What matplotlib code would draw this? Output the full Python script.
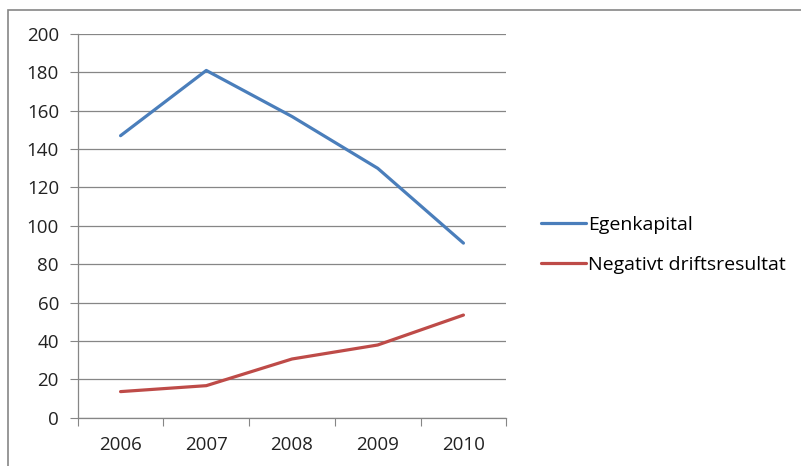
import matplotlib.pyplot as plt
from matplotlib.patches import Rectangle

years = ["2006", "2007", "2008", "2009", "2010"]
egenkapital = [147, 181, 157, 130, 91]
negativt = [13.6, 16.7, 30.6, 37.9, 53.5]
labels = ["Egenkapital", "Negativt driftsresultat"]

plt.rcParams['font.family'] = ['Open Sans', 'DejaVu Sans']

W, H = 801, 466
fig = plt.figure(figsize=(W / 100, H / 100), dpi=100)
ax = fig.add_axes([77.7 / W, 1 - 417.7 / H, (506.3 - 77.7) / W, (417.7 - 34) / H])

# outer chart border
fig.patches.append(Rectangle((8 / W, -0.1), 1.2, 1 - 10 / H + 0.1, transform=fig.transFigure,
                             fill=False, edgecolor='#868686', linewidth=1.2))

x = range(len(years))
l1, = ax.plot(x, egenkapital, color='#4A7EBB', lw=2.3, solid_capstyle='round')
l2, = ax.plot(x, negativt, color='#BE4B48', lw=2.3, solid_capstyle='round')

ax.set_xlim(-0.5, len(years) - 0.5)
ax.set_ylim(0, 200)
ax.set_yticks(range(0, 201, 20))
ax.set_xticks([i - 0.5 for i in range(len(years) + 1)])
ax.set_xticklabels([])
ax.set_xticks(list(x), minor=True)
ax.set_xticklabels(years, minor=True)
ax.tick_params(axis='x', which='minor', length=0, pad=13, labelsize=13.5, colors='#222222')
ax.tick_params(axis='x', which='major', length=6, color='#868686')
ax.tick_params(axis='y', length=5.5, color='#868686', labelsize=13.5, labelcolor='#222222', pad=8)

ax.grid(axis='y', color='#868686', lw=0.9)
ax.set_axisbelow(True)
for s in ['top', 'right']:
    ax.spines[s].set_visible(False)
for s in ['left', 'bottom']:
    ax.spines[s].set_color('#868686')
    ax.spines[s].set_linewidth(0.9)

fig.legend([l1, l2], labels, loc='upper left', bbox_to_anchor=(533 / W, 1 - 208 / H),
           frameon=False, fontsize=14, handlelength=2.3, handletextpad=0.15,
           labelspacing=1.12, borderaxespad=0)

fig.savefig('out.png', dpi=100)
